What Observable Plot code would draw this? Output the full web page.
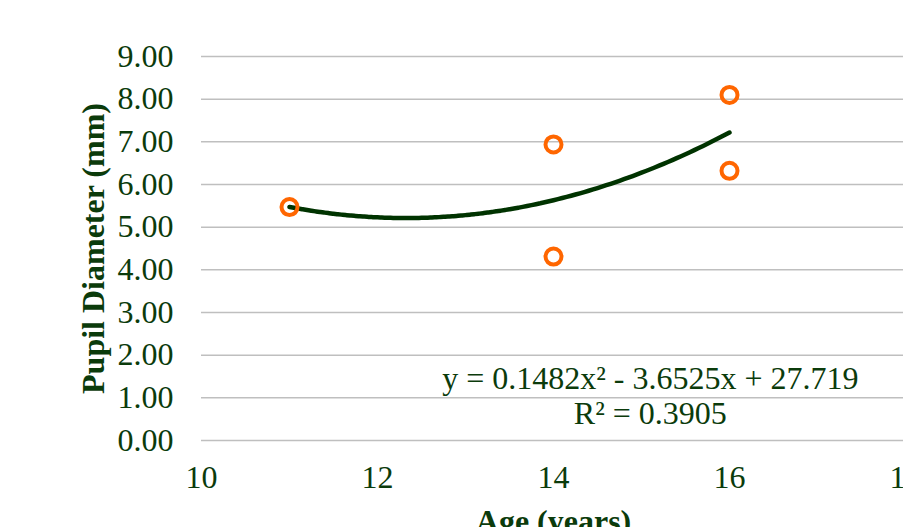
<!DOCTYPE html>
<html>
<head>
<meta charset="utf-8">
<script src="https://cdn.jsdelivr.net/npm/d3@7"></script>
<script src="https://cdn.jsdelivr.net/npm/@observablehq/plot@0.6"></script>
<style>
  html, body { margin: 0; padding: 0; background: #ffffff; overflow: hidden; }
  #chart svg { display: block; }
</style>
</head>
<body>
<div id="chart"></div>
<script>
// Measured pupil diameter by age
const ages = [11, 14, 14, 16, 16];
const diameters = [5.47, 6.94, 4.31, 8.10, 6.32];

// Quadratic trendline coefficients: y = a x² + b x + c
const trendCoefs = [0.1482, -3.6525, 27.719];
const trendRange = [11, 16];
const r2 = 0.3905;

const yTicks = [0, 1, 2, 3, 4, 5, 6, 7, 8, 9];
const xTicks = [10, 12, 14, 16, 18];

const ink = "#0b3b0b";
const fs = 32;

const points = ages.map((a, i) => ({age: a, d: diameters[i]}));

// Sample the fitted polynomial across the observed age range
const trend = d3.range(trendRange[0], trendRange[1] + 1e-9, 0.05).map(x => ({
  age: x,
  d: trendCoefs[0] * x * x + trendCoefs[1] * x + trendCoefs[2]
}));

const eqText = `y = ${trendCoefs[0]}x² - ${Math.abs(trendCoefs[1])}x + ${trendCoefs[2]}\nR² = ${r2}`;

const chart = Plot.plot({
  width: 903,
  height: 527,
  marginLeft: 201,
  marginRight: -2,
  marginTop: 56,
  marginBottom: 87,
  style: {fontFamily: "'Liberation Serif', 'Times New Roman', serif", color: ink, background: "#ffffff"},
  x: {domain: [10, 18]},
  y: {domain: [0, 9]},
  marks: [
    Plot.gridY(yTicks, {stroke: "#bfbfbf", strokeOpacity: 1, strokeWidth: 1.5}),
    Plot.axisY(yTicks, {tickSize: 0, tickPadding: 28, fontSize: fs, fill: ink, tickFormat: d3.format(".2f"), label: null}),
    Plot.axisX(xTicks, {tickSize: 0, tickPadding: 25, fontSize: fs, fill: ink, label: null}),
    Plot.line(trend, {x: "age", y: "d", stroke: "#003300", strokeWidth: 4.5, curve: "natural"}),
    Plot.dot(points, {x: "age", y: "d", r: 8, stroke: "#ff6600", strokeWidth: 4, fill: "none"}),
    Plot.text([eqText], {x: 15.1, y: 1.06, text: d => d, fontSize: fs, fill: ink, lineHeight: 1.1}),
    Plot.text(["Pupil Diameter (mm)"], {frameAnchor: "left", textAnchor: "middle", lineAnchor: "middle", dx: -108, rotate: -90, fontSize: fs, fontWeight: "bold", fill: ink}),
    Plot.text(["Age (years)"], {frameAnchor: "bottom", lineAnchor: "middle", dy: 81, fontSize: fs, fontWeight: "bold", fill: ink})
  ]
});

document.getElementById("chart").appendChild(chart);
</script>
</body>
</html>
